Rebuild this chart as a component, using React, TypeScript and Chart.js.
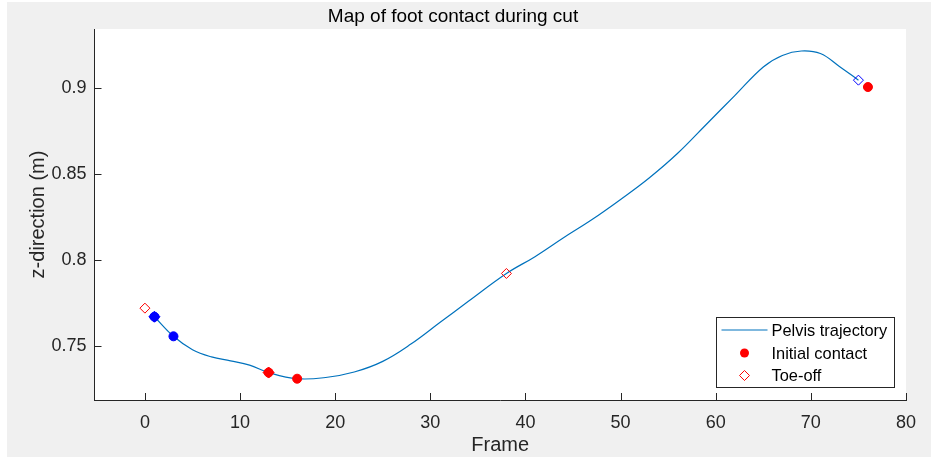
import React, { useEffect, useRef } from "react";
import { Chart, registerables } from "chart.js";

Chart.register(...registerables);

const FONT = "'Liberation Sans', Arial, Helvetica, sans-serif";

const titleText = "Map of foot contact during cut";
const xLabel = "Frame";
const yLabel = "z-direction (m)";
const xTicks = [0, 10, 20, 30, 40, 50, 60, 70, 80];
const yTicks = [0.75, 0.8, 0.85, 0.9];
const xRange = [-5.3, 80];
const yRange = [0.7185, 0.9346];

const legendLabels = ["Pelvis trajectory", "Initial contact", "Toe-off"];

// Pelvis trajectory (frame, z)
const pelvisFrames = [1, 3, 5, 7, 9, 11, 13, 16, 19, 22, 25, 28, 31, 34, 38, 41, 44, 47, 50, 53, 56, 59, 62, 65, 67, 69, 71, 73, 75];
const pelvisZ = [0.767, 0.7556, 0.7478, 0.7436, 0.7413, 0.7388, 0.7345, 0.7309, 0.7316, 0.7348, 0.741, 0.7512, 0.7636, 0.776, 0.7922, 0.802, 0.813, 0.8236, 0.8353, 0.8478, 0.8622, 0.879, 0.8958, 0.9125, 0.9192, 0.9218, 0.9203, 0.9128, 0.9048];

// Red foot
const redContactFrames = [13, 16, 76];
const redContactZ = [0.7345, 0.7309, 0.9008];
const redToeOffFrames = [0, 38];
const redToeOffZ = [0.772, 0.7922];
const redFilledDiamondFrames = [13];
const redFilledDiamondZ = [0.7345];

// Blue foot
const blueContactFrames = [1, 3];
const blueContactZ = [0.767, 0.7556];
const blueFilledDiamondFrames = [1];
const blueFilledDiamondZ = [0.767];
const blueToeOffFrames = [75];
const blueToeOffZ = [0.9048];

const LINE_BLUE = "#0072BD";
const RED = "#ff0000";
const BLUE = "#0000ff";
const AXIS = "#262626";

const pts = (xs: number[], ys: number[]) => xs.map((x, i) => ({ x, y: ys[i] }));

const matlabPlugin = {
  id: "matlabStyle",
  beforeDraw(chart: any) {
    const { ctx, chartArea: a } = chart;
    ctx.save();
    ctx.fillStyle = "#ffffff";
    ctx.fillRect(a.left, a.top, a.right - a.left, a.bottom - a.top);
    ctx.restore();
  },
  afterDraw(chart: any) {
    const { ctx, chartArea: a } = chart;
    const xs = chart.scales.x;
    const ys = chart.scales.y;
    ctx.save();
    // inward ticks
    ctx.strokeStyle = AXIS;
    ctx.lineWidth = 1;
    ctx.beginPath();
    xTicks.forEach((v) => {
      const px = Math.round(xs.getPixelForValue(v)) + 0.5;
      ctx.moveTo(px, a.bottom);
      ctx.lineTo(px, a.bottom - 7);
    });
    yTicks.forEach((v) => {
      const py = Math.round(ys.getPixelForValue(v)) + 0.5;
      ctx.moveTo(a.left, py);
      ctx.lineTo(a.left + 7, py);
    });
    ctx.stroke();

    // legend box
    const w = 178;
    const h = 70;
    const bx = Math.round(a.right - 12 - w) + 0.5;
    const by = Math.round(a.bottom - 13 - h) + 0.5;
    ctx.fillStyle = "#ffffff";
    ctx.fillRect(bx, by, w, h);
    ctx.strokeStyle = AXIS;
    ctx.lineWidth = 1;
    ctx.strokeRect(bx, by, w, h);

    const rows = [by + 12.5, by + 35.5, by + 58];
    const mx = bx + 28;
    // row 0: line
    ctx.strokeStyle = LINE_BLUE;
    ctx.lineWidth = 1.2;
    ctx.beginPath();
    ctx.moveTo(bx + 5, rows[0]);
    ctx.lineTo(bx + 51, rows[0]);
    ctx.stroke();
    // row 1: filled circle
    ctx.fillStyle = RED;
    ctx.beginPath();
    ctx.arc(mx, rows[1], 4.5, 0, Math.PI * 2);
    ctx.fill();
    // row 2: open diamond
    ctx.strokeStyle = RED;
    ctx.lineWidth = 1;
    ctx.beginPath();
    ctx.moveTo(mx, rows[2] - 5);
    ctx.lineTo(mx + 5, rows[2]);
    ctx.lineTo(mx, rows[2] + 5);
    ctx.lineTo(mx - 5, rows[2]);
    ctx.closePath();
    ctx.stroke();

    ctx.fillStyle = "#000000";
    ctx.font = `16.4px ${FONT}`;
    ctx.textAlign = "left";
    ctx.textBaseline = "middle";
    legendLabels.forEach((t, i) => ctx.fillText(t, bx + 55, rows[i] + 1));
    ctx.restore();
  },
};

export default function App() {
  const ref = useRef<HTMLCanvasElement>(null);

  useEffect(() => {
    const canvas = ref.current!;
    const markerBase = { showLine: false, pointHoverRadius: 0, order: 0 };
    const chart = new Chart(canvas, {
      type: "scatter",
      data: {
        datasets: [
          {
            ...markerBase,
            label: legendLabels[1],
            data: pts(redContactFrames, redContactZ),
            pointStyle: "circle",
            pointRadius: 4.5,
            backgroundColor: RED,
            borderColor: RED,
            borderWidth: 1,
          },
          {
            ...markerBase,
            label: legendLabels[2],
            data: pts(redToeOffFrames, redToeOffZ),
            pointStyle: "rectRot",
            pointRadius: 5,
            backgroundColor: "rgba(0,0,0,0)",
            borderColor: RED,
            borderWidth: 1,
          },
          {
            ...markerBase,
            label: "red filled diamond",
            data: pts(redFilledDiamondFrames, redFilledDiamondZ),
            pointStyle: "rectRot",
            pointRadius: 5.5,
            backgroundColor: RED,
            borderColor: RED,
            borderWidth: 1,
          },
          {
            ...markerBase,
            label: "blue contact",
            data: pts(blueContactFrames, blueContactZ),
            pointStyle: "circle",
            pointRadius: 4.5,
            backgroundColor: BLUE,
            borderColor: BLUE,
            borderWidth: 1,
          },
          {
            ...markerBase,
            label: "blue filled diamond",
            data: pts(blueFilledDiamondFrames, blueFilledDiamondZ),
            pointStyle: "rectRot",
            pointRadius: 5.5,
            backgroundColor: BLUE,
            borderColor: BLUE,
            borderWidth: 1,
          },
          {
            ...markerBase,
            label: "blue toe-off",
            data: pts(blueToeOffFrames, blueToeOffZ),
            pointStyle: "rectRot",
            pointRadius: 5,
            backgroundColor: "rgba(0,0,0,0)",
            borderColor: BLUE,
            borderWidth: 1,
          },
          {
            label: legendLabels[0],
            data: pts(pelvisFrames, pelvisZ),
            showLine: true,
            borderColor: LINE_BLUE,
            borderWidth: 1.2,
            pointRadius: 0,
            pointHoverRadius: 0,
            tension: 0.4,
            order: 10,
          } as any,
        ],
      },
      options: {
        responsive: false,
        maintainAspectRatio: false,
        devicePixelRatio: 1,
        animation: false,
        events: [],
        layout: { padding: { left: 0, right: 32, top: 0, bottom: 0 } },
        plugins: {
          legend: { display: false },
          tooltip: { enabled: false },
          title: {
            display: true,
            text: titleText,
            color: "#000000",
            font: { family: FONT, size: 19, weight: "normal", lineHeight: 1.2 },
            padding: { top: 5, bottom: 1.2 },
          },
        },
        scales: {
          x: {
            type: "linear",
            position: "bottom",
            min: xRange[0],
            max: xRange[1],
            afterBuildTicks: (s: any) => {
              s.ticks = xTicks.map((v) => ({ value: v }));
            },
            afterFit: (s: any) => {
              s.height = 57;
            },
            grid: { display: false, drawTicks: false },
            border: { display: true, color: AXIS, width: 1 },
            ticks: {
              color: AXIS,
              font: { family: FONT, size: 18 },
              padding: 12,
              maxRotation: 0,
              autoSkip: false,
              callback: (v: any) => String(v),
            },
            title: {
              display: true,
              text: xLabel,
              color: AXIS,
              font: { family: FONT, size: 20, lineHeight: 1.2 },
              padding: { top: 0, bottom: 0 },
            },
          },
          y: {
            type: "linear",
            position: "left",
            min: yRange[0],
            max: yRange[1],
            afterBuildTicks: (s: any) => {
              s.ticks = yTicks.map((v) => ({ value: v }));
            },
            afterFit: (s: any) => {
              s.width = 94.5;
            },
            grid: { display: false, drawTicks: false },
            border: { display: true, color: AXIS, width: 1 },
            ticks: {
              color: AXIS,
              font: { family: FONT, size: 18 },
              padding: 8,
              autoSkip: false,
              callback: (v: any) => String(v),
            },
            title: {
              display: true,
              text: yLabel,
              color: AXIS,
              font: { family: FONT, size: 20, lineHeight: 1.2 },
              padding: { top: 26, bottom: 0 },
            },
          },
        },
      },
      plugins: [matlabPlugin],
    } as any);
    return () => chart.destroy();
  }, []);

  return (
    <div
      style={{
        position: "absolute",
        left: 0,
        top: 0,
        width: 938,
        height: 457,
        background: "#ffffff",
        overflow: "hidden",
      }}
    >
      <div
        style={{
          position: "absolute",
          left: 7,
          top: 2,
          width: 924,
          height: 455,
          background: "#f0f0f0",
        }}
      />
      <canvas
        ref={ref}
        width={938}
        height={457}
        style={{ position: "absolute", left: 0, top: 0, width: 938, height: 457 }}
      />
    </div>
  );
}
